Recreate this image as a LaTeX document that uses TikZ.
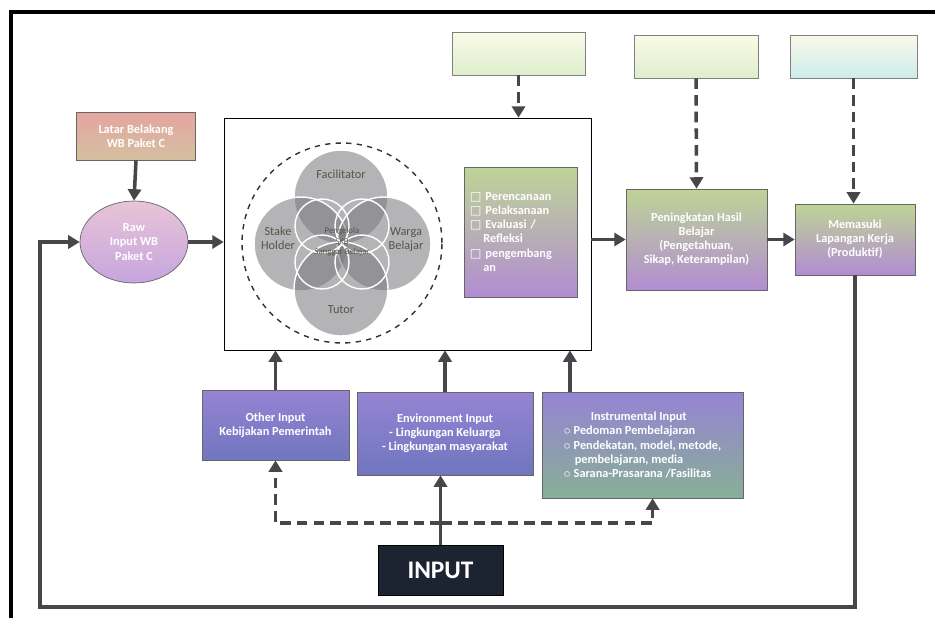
\documentclass[tikz,border=0pt]{standalone}
\usepackage{fontspec}
\setmainfont{Carlito}
\newfontfamily\symfont{DejaVu Sans}
\usetikzlibrary{calc,arrows.meta,shapes.geometric}

\definecolor{arrgray}{RGB}{70,70,75}
\definecolor{inpurple}{RGB}{150,132,212}
\definecolor{inblue}{RGB}{112,118,190}
\definecolor{ingreen}{RGB}{135,175,150}
\definecolor{outgreen}{RGB}{190,212,150}
\definecolor{outpink}{RGB}{214,148,172}
\definecolor{outviolet}{RGB}{178,140,210}
\definecolor{paleyellow}{RGB}{250,250,232}
\definecolor{palegreen}{RGB}{222,238,205}
\definecolor{palecyan}{RGB}{205,236,236}
\definecolor{petalgray}{RGB}{120,120,125}
\definecolor{labelgray}{RGB}{85,85,70}

\tikzset{
    arr/.style={line width=2pt,draw=arrgray,-{Triangle[width=7.5pt,length=6.5pt]}},
    darr/.style={arr,dash pattern=on 6pt off 3.5pt},
    box/.style={draw=black!60,thin,text=white,font=\scriptsize\bfseries,align=center,inner sep=2pt},
    inbox/.style={box,top color=inpurple,bottom color=inblue},
    outbox/.style={box,top color=outgreen,middle color=outpink,bottom color=outviolet},
    palebox/.style={draw=black!50,thin,top color=paleyellow,bottom color=palegreen},
    petal/.style={circle,draw=white,thick,fill=petalgray,fill opacity=0.55,minimum size=1.88cm},
    petaltext/.style={text=labelgray,font=\scriptsize,align=center}
}

\newcommand{\chk}{{\symfont\char"25A1}\ }

\begin{document}
\begin{tikzpicture}[x=0.02cm,y=-0.02cm]
    \useasboundingbox (0,0) rectangle (935,618);
    \fill[white] (0,0) rectangle (935,618);

    % frame
    \draw[line width=2.2pt] (11,618) -- (11,12) -- (935,12);

    % left side
    \node[box,minimum width=2.38cm,minimum height=0.96cm,
          top color={rgb,255:red,228;green,165;blue,160},bottom color={rgb,255:red,212;green,192;blue,160}]
        (latar) at (136,136) {Latar Belakang\\WB Paket C};
    \node[box,ellipse,minimum width=2.16cm,minimum height=1.64cm,
          top color={rgb,255:red,232;green,196;blue,215},middle color={rgb,255:red,214;green,150;blue,208},bottom color={rgb,255:red,198;green,165;blue,222}]
        (raw) at (134,242) {Raw\\Input WB\\Paket C};

    % process block
    \node[draw=black,thin,fill=white,minimum width=7.34cm,minimum height=4.64cm] (core) at (407.5,234) {};
    \node[circle,draw=black!80,thick,dashed,minimum size=4cm] (ring) at (342,243) {};

    \node[petal] (fas) at (341,197) {};
    \node[petal] (stk) at (301,244) {};
    \node[petal] (wrg) at (384,244) {};
    \node[petal] (tut) at (341,289) {};
    \foreach \cx/\cy in {322/226,362/226,322/262,362/262}
        \draw[white,thick] (\cx,\cy) circle[radius=27];

    \node[petaltext] (fastext) at (341,174) {Facilitator};
    \node[petaltext] (stktext) at (278,238) {Stake\\Holder};
    \node[petaltext] (wrgtext) at (406,240) {Warga\\Belajar};
    \node[petaltext] (tuttext) at (341,310) {Tutor};
    \node[petaltext,font=\tiny] (pengelola) at (342,242) {Pengelola\\SKB\\Sanggar Belajar};

    \node[outbox,align=left,text width=2.05cm,minimum width=2.26cm,minimum height=2.6cm] (proses) at (521,232)
        {\chk Perencanaan\\\chk Pelaksanaan\\\chk Evaluasi /\\\hspace*{1.1em}Refleksi\\\chk pengembang\\\hspace*{1.1em}an};

    % outputs
    \node[outbox,minimum width=2.82cm,minimum height=2.02cm] (hasil) at (696.5,239.5)
        {Peningkatan Hasil\\Belajar\\(Pengetahuan,\\Sikap, Keterampilan)};
    \node[outbox,minimum width=2.4cm,minimum height=1.42cm] (kerja) at (855,239.5)
        {Memasuki\\Lapangan Kerja\\(Produktif)};

    \node[palebox,minimum width=2.66cm,minimum height=0.86cm] (atas1) at (518.5,53.5) {};
    \node[palebox,minimum width=2.48cm,minimum height=0.86cm] (atas2) at (696,56.5) {};
    \node[palebox,bottom color=palecyan,minimum width=2.54cm,minimum height=0.86cm] (atas3) at (853.5,56.5) {};

    % inputs
    \node[inbox,minimum width=2.94cm,minimum height=1.4cm] (other) at (275.5,425)
        {Other Input\\Kebijakan Pemerintah};
    \node[inbox,minimum width=3.52cm,minimum height=1.66cm] (env) at (445,433.5)
        {Environment Input\\- Lingkungan Keluarga\\- Lingkungan masyarakat};
    \node[inbox,bottom color=ingreen,align=left,minimum width=4.02cm,minimum height=2.12cm] (instr) at (642.5,445)
        {\hspace*{2.2em}Instrumental Input\\$\circ$\ Pedoman Pembelajaran\\$\circ$\ Pendekatan, model, metode,\\\hspace*{0.9em}pembelajaran, media\\$\circ$\ Sarana-Prasarana /Fasilitas};
    \node[draw=black,fill={rgb,255:red,28;green,36;blue,50},text=white,font=\Large\bfseries,
          minimum width=2.5cm,minimum height=1cm] (input) at (440.5,570) {INPUT};

    % connectors
    \draw[arr] (latar.south) -- (raw.north);
    \draw[arr] (raw.east) -- (raw.east -| core.west);
    \draw[arr] (core.east |- hasil.west) -- (hasil.west);
    \draw[arr] (hasil.east) -- (hasil.east -| kerja.west);
    \draw[darr] (atas1.south) -- (atas1.south |- core.north);
    \draw[darr] (atas2.south) -- (hasil.north);
    \draw[darr] (atas3.south) -- (atas3.south |- kerja.north);

    \draw[arr] (other.north) -- (other.north |- core.south);
    \draw[arr] (env.north) -- (env.north |- core.south);
    \coordinate (instrtop) at ($(instr.north west)!0.14!(instr.north east)$);
    \draw[arr] (instrtop) -- (instrtop |- core.south);

    \draw[arr] (input.north) -- (input.north |- env.south);
    \coordinate (split) at (441,523);
    \coordinate (instrfoot) at ($(instr.south west)!0.55!(instr.south east)$);
    \draw[darr] (split) -| (other.south);
    \draw[darr] (split) -| (instrfoot);

    % feedback
    \coordinate (balik) at (40,607);
    \draw[arr] (kerja.south) |- (balik) |- (raw.west);
\end{tikzpicture}
\end{document}
